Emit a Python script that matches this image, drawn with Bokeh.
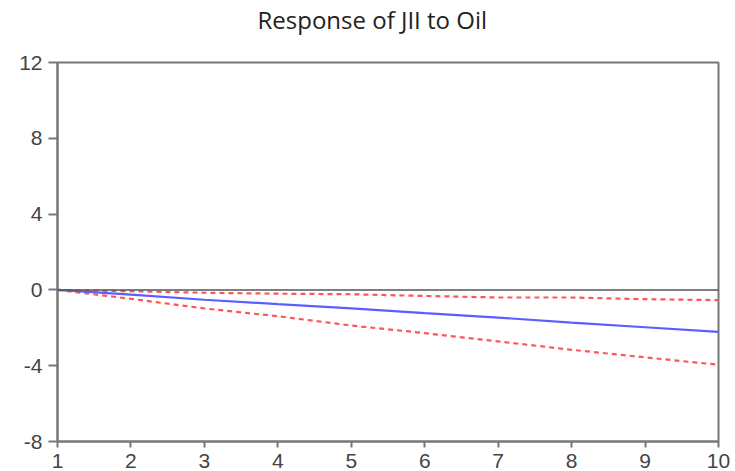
from bokeh.plotting import figure
from bokeh.models import Span, FixedTicker, Range1d, Title
from bokeh.embed import file_html
from bokeh.resources import INLINE

periods = [1, 2, 3, 4, 5, 6, 7, 8, 9, 10]
response = [0.0, -0.25, -0.52, -0.75, -0.97, -1.23, -1.46, -1.73, -1.97, -2.22]
upper_band = [0.0, -0.07, -0.15, -0.20, -0.23, -0.32, -0.40, -0.40, -0.49, -0.54]
lower_band = [0.0, -0.47, -0.98, -1.39, -1.88, -2.28, -2.72, -3.16, -3.56, -3.95]
y_ticks = [-8, -4, 0, 4, 8, 12]
y_tick_labels = ["-8", "-4", "0", "4", "8", "12"]
x_ticks = periods
title_text = "Response of JII to Oil"

p = figure(width=735, height=471, output_backend="svg", toolbar_location=None,
           x_range=Range1d(1, 10), y_range=Range1d(-8, 12),
           min_border_left=57, min_border_right=17, min_border_bottom=30, min_border_top=61)

# spacer between the title and the frame (nearest to the frame)
p.add_layout(Title(text=" ", text_font_size="10px", standoff=14), "above")

p.title.text = title_text
p.title.align = "left"
p.title.offset = 200
p.title.standoff = 0
p.title.text_font = "Open Sans"
p.title.text_font_size = "24px"
p.title.text_font_style = "normal"
p.title.text_color = "#222222"

p.grid.visible = False
p.outline_line_color = "#777777"
p.outline_line_width = 2
p.background_fill_color = "white"
p.border_fill_color = "white"

for ax in (p.xaxis[0], p.yaxis[0]):
    ax.axis_line_color = "#777777"
    ax.axis_line_width = 2
    ax.major_tick_line_color = "#777777"
    ax.major_tick_line_width = 2
    ax.major_tick_in = 0
    ax.minor_tick_line_color = None
    ax.major_label_text_font = "Liberation Sans"
    ax.major_label_text_font_size = "21px"
    ax.major_label_text_color = "#444444"

p.yaxis.ticker = FixedTicker(ticks=y_ticks)
p.yaxis.major_label_overrides = {t: s for t, s in zip(y_ticks, y_tick_labels)}
p.xaxis.ticker = FixedTicker(ticks=x_ticks)
p.yaxis.major_tick_out = 9
p.yaxis.major_label_standoff = 6
p.xaxis.major_tick_out = 6
p.xaxis.major_label_standoff = 6

p.add_layout(Span(location=0, dimension="width", line_color="#555555", line_width=1.5))

p.line(periods, upper_band, line_color="#ff5555", line_width=2.2, line_dash="5 4")
p.line(periods, lower_band, line_color="#ff5555", line_width=2.2, line_dash="5 4")
p.line(periods, response, line_color="#5c5cff", line_width=2.2)

open("out.html", "w").write(file_html(p, INLINE))
